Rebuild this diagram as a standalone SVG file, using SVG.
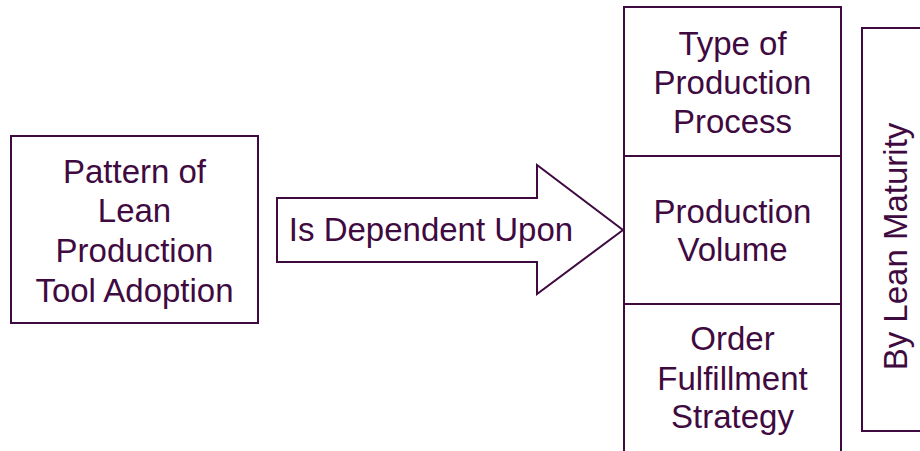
<svg xmlns="http://www.w3.org/2000/svg" width="920" height="451" viewBox="0 0 920 451">
<style>
.s{fill:#fff;stroke:#3f0a3f;stroke-width:2}
.t{font-family:"Liberation Sans",Arial,sans-serif;font-size:33px;fill:#3f0a3f;text-anchor:middle}
</style>
<rect width="920" height="451" fill="#fff"/>
<g id="pattern">
<rect class="s" x="11" y="136" width="247" height="187"/>
<text class="t"><tspan x="134.5" y="183">Pattern of</tspan><tspan x="134.5" y="222">Lean</tspan><tspan x="134.5" y="262">Production</tspan><tspan x="134.5" y="302">Tool Adoption</tspan></text>
</g>
<g id="connectors">
<g id="arrow">
<polygon class="s" points="277,198 537,198 537,165 623,230 537,294 537,262 277,262"/>
<text class="t" x="431" y="241">Is Dependent Upon</text>
</g>
</g>
<g id="type">
<rect class="s" x="624" y="7" width="217" height="149"/>
<text class="t"><tspan x="732.5" y="55">Type of</tspan><tspan x="732.5" y="94">Production</tspan><tspan x="732.5" y="133">Process</tspan></text>
</g>
<g id="volume">
<rect class="s" x="624" y="156" width="217" height="148"/>
<text class="t"><tspan x="732.5" y="223">Production</tspan><tspan x="732.5" y="261">Volume</tspan></text>
</g>
<g id="order">
<rect class="s" x="624" y="304" width="217" height="152"/>
<text class="t"><tspan x="732.5" y="350">Order</tspan><tspan x="732.5" y="390">Fulfillment</tspan><tspan x="732.5" y="428">Strategy</tspan></text>
</g>
<g id="maturity">
<rect class="s" x="862" y="28" width="70" height="403"/>
<text class="t" transform="translate(907,246.5) rotate(-90)" x="0" y="0">By Lean Maturity</text>
</g>
</svg>
